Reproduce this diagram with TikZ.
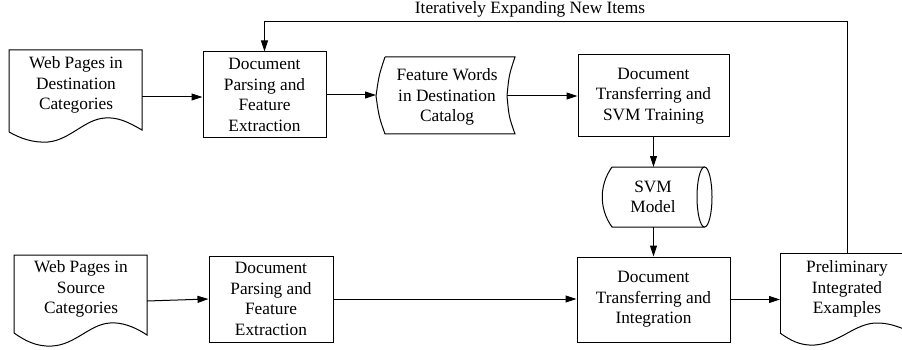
\documentclass[tikz,border=0pt]{standalone}
\usepackage{fontspec}
\setmainfont{Liberation Serif}
\usetikzlibrary{arrows.meta}
\begin{document}
\begin{tikzpicture}[x=1pt,y=-1pt,
  every node/.style={font=\fontsize{17.3}{20.5}\selectfont, align=center, inner sep=0pt},
  box/.style={draw, line width=1pt, minimum width=#1},
  ln/.style={line width=1pt},
  arr/.style={line width=1pt, -{Triangle[length=11pt,width=7pt]}}]
\useasboundingbox (0,0) rectangle (902,350);

% process boxes
\node[box=123pt, minimum height=86pt] (b1) at (264.5,95) {Document\\Parsing and\\Feature\\Extraction};
\node[box=151pt, minimum height=82pt] (b2) at (653.5,96) {Document\\Transferring and\\SVM Training};
\node[box=153pt, minimum height=85pt] (b3) at (653.5,299.5) {Document\\Transferring and\\Integration};
\node[box=124pt, minimum height=86pt] (b4) at (271,299) {Document\\Parsing and\\Feature\\Extraction};

% document: web pages destination
\draw[ln] (9,132) -- (9,50) -- (142,50) -- (142,130)
  .. controls (128,122) and (118,117) .. (105,118)
  .. controls (85,119) and (70,140) .. (48,142)
  .. controls (32,143) and (20,138) .. (9,132);
\node (d1) at (76,85) {Web Pages in\\Destination\\Categories};
\coordinate (d1e) at (142,97);

% document: web pages source
\draw[ln] (14,333) -- (14,255) -- (147,255) -- (147,335)
  .. controls (135,327) and (122,322) .. (110,323)
  .. controls (90,324) and (75,345) .. (52,346)
  .. controls (36,347) and (24,340) .. (14,333);
\node (d2) at (81,289) {Web Pages in\\Source\\Categories};
\coordinate (d2e) at (147,301);

% document: preliminary integrated examples
\draw[ln] (780,333) -- (780,253) -- (904,253);
\draw[ln] (780,333) .. controls (790,340) and (800,346) .. (815,345)
  .. controls (840,343) and (855,323) .. (877,323)
  .. controls (888,323) and (896,326) .. (904,329);
\node (pre) at (847,289) {Preliminary\\Integrated\\Examples};
\coordinate (prew) at (780,299.5);
\coordinate (pren) at (847,253);

% feature words (display-like shape)
\draw[ln] (385,57) -- (515,57) .. controls (509,75) .. (507,96) .. controls (509,117) .. (515,134)
  -- (385,134) .. controls (379,117) .. (376,96) .. controls (379,75) .. (385,57);
\node (fw) at (447,97) {Feature Words\\in Destination\\Catalog};
\coordinate (fww) at (376,96);
\coordinate (fwe) at (507,96);

% SVM model (stored data / cylinder)
\draw[ln] (704.5,167) -- (612,167) .. controls (599,185) and (599,209) .. (612,227) -- (704.5,227);
\draw[ln] (704.5,197) ellipse [x radius=7.5, y radius=30];
\node (svm) at (653,197) {SVM\\Model};
\coordinate (svmn) at (653.5,167);
\coordinate (svms) at (653.5,227);

% connectors
\draw[arr] (d1e) -- (b1.west |- d1e);
\draw[arr] (b1.east) -- (fww |- b1.east);
\draw[arr] (fwe) -- (b2.west |- fwe);
\draw[arr] (b2.south) -- (svmn);
\draw[arr] (svms) -- (b3.north);
\draw[arr] (d2e) -- (b4.west);
\draw[arr] (b4.east) -- (b3.west |- b4.east);
\draw[arr] (b3.east) -- (prew);
\coordinate (fb) at (847,22);
\draw[arr] (pren) -- (fb) -| (b1.north);
\node (lbl) at (530,9) {Iteratively Expanding New Items};
\end{tikzpicture}
\end{document}
